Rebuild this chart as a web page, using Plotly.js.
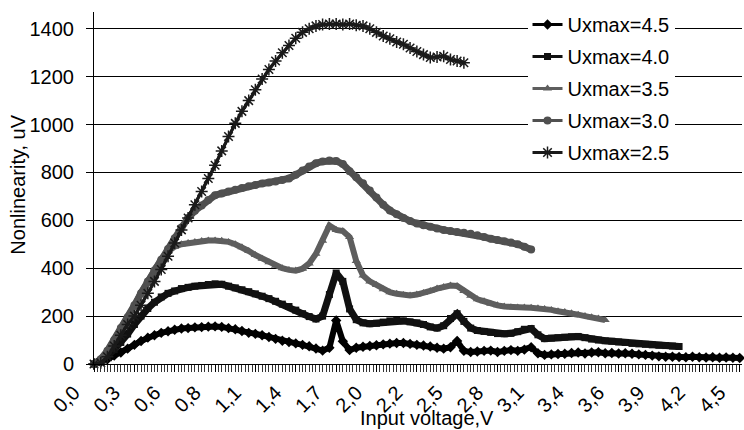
<!DOCTYPE html>
<html>
<head>
<meta charset="utf-8">
<script src="https://cdn.plot.ly/plotly-3.0.1.min.js"></script>
<style>html,body{margin:0;padding:0;background:#fff;}#chart{width:744px;height:430px;}</style>
</head>
<body>
<div id="chart"></div>
<script>
// Input voltage (V) sampled at every second category of the source chart
const voltage = [0,0.047,0.093,0.140,0.186,0.233,0.280,0.326,0.373,0.419,0.466,0.513,0.559,0.606,0.652,0.699,0.746,0.792,0.839,0.885,0.932,0.979,1.025,1.072,1.118,1.165,1.212,1.258,1.305,1.351,1.398,1.445,1.491,1.538,1.584,1.631,1.678,1.724,1.771,1.817,1.864,1.911,1.957,2.004,2.050,2.097,2.144,2.190,2.237,2.283,2.330,2.377,2.423,2.470,2.516,2.563,2.610,2.656,2.703,2.749,2.796,2.843,2.889,2.936,2.982,3.029,3.076,3.122,3.169,3.215,3.262,3.309,3.355,3.402,3.448,3.495,3.542,3.588,3.635,3.681,3.728,3.775,3.821,3.868,3.914,3.961,4.008,4.054,4.101,4.147,4.194,4.241,4.287,4.334,4.380,4.427,4.474];

// Nonlinearity (uV) per series
const ux45 = [0,8,20,35,48,64,80,96,110,120,130,137,143,148,150,153,154,156,157,155,150,145,138,130,126,120,113,105,97,92,86,80,74,65,56,68,182,95,58,68,72,75,78,82,85,88,88,84,80,77,73,68,64,70,96,55,50,52,55,56,50,55,58,55,60,70,45,38,40,42,43,46,48,44,48,49,45,46,44,45,43,40,38,35,32,30,30,29,28,30,28,27,28,26,27,26,25];
const ux40 = [0,15,35,60,90,125,165,200,232,258,280,295,305,315,320,325,328,332,335,333,325,318,310,302,293,283,273,262,250,240,225,210,198,188,200,290,380,345,230,185,172,168,170,175,180,182,180,176,172,165,155,150,160,190,210,178,150,140,136,132,127,126,128,135,145,148,122,106,108,110,112,114,115,110,104,100,97,95,92,90,86,84,82,80,78,77,75,73];
const ux35 = [0,20,55,100,150,195,245,300,350,400,440,470,490,500,505,510,514,516,516,515,510,500,488,472,455,440,425,410,400,393,390,398,420,460,515,578,560,555,530,430,370,345,330,312,300,293,288,286,290,296,305,315,322,328,326,305,285,270,262,252,245,240,237,236,236,235,233,230,226,220,217,212,206,200,195,190,184];
const ux30 = [0,20,55,100,150,195,245,295,345,390,435,480,525,570,610,640,662,685,705,712,720,728,735,742,748,754,758,762,768,775,790,808,825,838,846,850,848,835,805,780,755,725,695,665,641,625,610,597,587,579,573,566,560,555,551,548,544,538,530,523,518,513,507,500,490,478];
const ux25 = [0,5,30,75,120,165,200,245,295,345,395,450,505,560,610,665,720,775,830,890,950,1005,1055,1100,1145,1190,1230,1265,1300,1330,1360,1385,1400,1412,1418,1420,1420,1418,1420,1415,1412,1400,1385,1370,1358,1345,1335,1320,1305,1292,1280,1282,1285,1272,1265,1258];

const seriesNames = ['Uxmax=4.5','Uxmax=4.0','Uxmax=3.5','Uxmax=3.0','Uxmax=2.5'];
const seriesValues = [ux45, ux40, ux35, ux30, ux25];

const tickVoltages = [0,0.280,0.559,0.839,1.118,1.398,1.678,1.957,2.237,2.516,2.796,3.076,3.355,3.635,3.914,4.194,4.474];
const tickLabels = ['0,0','0,3','0,6','0,8','1,1','1,4','1,7','2,0','2,2','2,5','2,8','3,1','3,4','3,6','3,9','4,2','4,5'];

const styles = [
  {color:'#000000', symbol:'diamond', size:8, band:6},
  {color:'#111111', symbol:'square', size:7, band:7},
  {color:'#5e5e5e', symbol:'triangle-up', size:8, band:6},
  {color:'#505050', symbol:'circle', size:8, band:7},
  {color:'#1a1a1a', symbol:'asterisk-open', size:10, band:3}
];

const traces = [];
seriesNames.forEach((name, k) => {
  const vals = seriesValues[k];
  const st = styles[k];
  const xs = voltage.slice(0, vals.length);
  traces.push({
    type:'scatter', mode:'lines', name:name, showlegend:false,
    x: xs, y: vals, cliponaxis:false, hoverinfo:'skip',
    line:{color:st.color, width:st.band}
  });
  traces.push({
    type:'scatter', mode:'lines+markers', name:name,
    x: xs, y: vals,
    legendgroup: 'g'+k,
    cliponaxis:false,
    line:{color:st.color, width:3},
    marker:{color:st.color, symbol:st.symbol, size:st.size,
            line:{color:st.color, width: st.symbol==='asterisk-open' ? 1.5 : 0}}
  });
});

const fontFam = '"Liberation Sans", Arial, Helvetica, sans-serif';

const layout = {
  width:744, height:430,
  margin:{l:94, r:2, t:12, b:66},
  paper_bgcolor:'#ffffff', plot_bgcolor:'#ffffff',
  font:{family:fontFam, size:20, color:'#000'},
  showlegend:true,
  legend:{x:0.669, y:1.02, xanchor:'left', yanchor:'top', bgcolor:'#ffffff', borderwidth:0,
          font:{family:fontFam, size:20, color:'#000'}, tracegroupgap:3},
  xaxis:{
    range:[0,4.49], tickmode:'array', tickvals:tickVoltages, ticktext:tickLabels,
    tickangle:-45, ticks:'outside', ticklen:7, tickcolor:'#000', tickwidth:1,
    showline:true, linecolor:'#000', linewidth:1, showgrid:false, zeroline:false,
    tickfont:{family:fontFam, size:20, color:'#000'},
    ticklabelstandoff:1, ticklabelshift:-20, ticklabeloverflow:'allow',
    minor:{ticks:'outside', dtick:0.0233, tick0:0, ticklen:7, tickcolor:'#333', tickwidth:1, showgrid:false}
  },
  yaxis:{
    range:[0,1470], dtick:200, tick0:0, ticks:'outside', ticklen:7, tickcolor:'#000',
    showline:true, linecolor:'#000', linewidth:1, showgrid:true, gridcolor:'#000', gridwidth:1,
    zeroline:false, tickfont:{family:fontFam, size:20, color:'#000'}, ticklabelstandoff:8
  },
  annotations:[
    {text:'Input voltage,V', xref:'paper', yref:'paper', x:0.514, y:-0.153, xanchor:'center', yanchor:'middle',
     showarrow:false, font:{family:fontFam, size:20, color:'#000'}},
    {text:'Nonlinearity, uV', xref:'paper', yref:'paper', x:-0.117, y:0.51, xanchor:'center', yanchor:'middle',
     textangle:-90, showarrow:false, font:{family:fontFam, size:20, color:'#000'}}
  ]
};

Plotly.newPlot('chart', traces, layout, {staticPlot:true, displayModeBar:false});
</script>
</body>
</html>
